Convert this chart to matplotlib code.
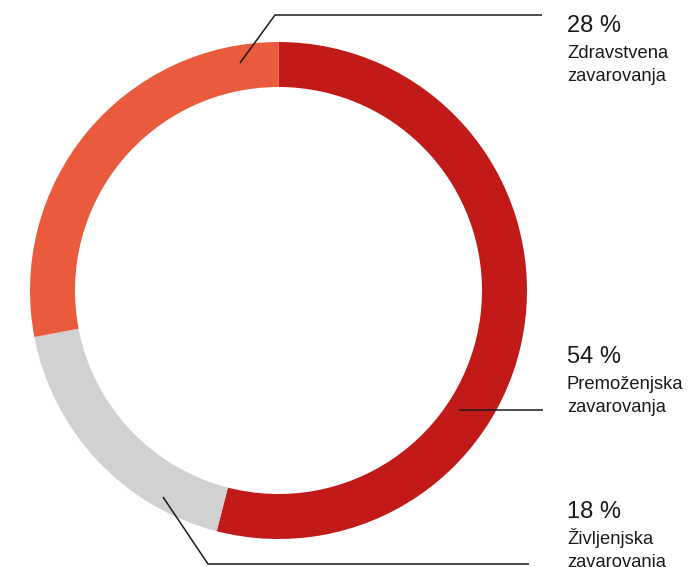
import matplotlib.pyplot as plt

labels = ["Premoženjska\nzavarovanja", "Življenjska\nzavarovanja", "Zdravstvena\nzavarovanja"]
shares = [54, 18, 28]
pct_labels = ["54 %", "18 %", "28 %"]
colors = ["#C21A18", "#D0D1D0", "#EA5A3D"]

plt.rcParams['font.family'] = ['Liberation Sans', 'DejaVu Sans']

fig = plt.figure(figsize=(6.9, 5.67), dpi=100)
ax = fig.add_axes([0, 0, 1, 1])

cx, cy, r_out = 278.5, 290.5, 248.5
# y axis is inverted (pixel coords), so -90 is the top and ccw looks clockwise
ax.pie(shares, colors=colors, startangle=-90, counterclock=True,
       center=(cx, cy), radius=r_out, frame=True,
       wedgeprops=dict(width=45, linewidth=0))
ax.set_xlim(0, 690)
ax.set_ylim(567, 0)
ax.set_aspect('equal')
ax.axis('off')

# leader lines (x, y in pixels)
leaders = [
    ([459, 543], [410, 410]),
    ([163, 208, 529], [497, 564, 564]),
    ([240, 275, 542], [63, 15, 15]),
]
for xs, ys in leaders:
    ax.plot(xs, ys, color="#1a1a1a", lw=1.1, solid_capstyle='butt')

text_pos = [(567, 363), (567, 518), (567, 32)]
for (tx, ty), pct, lab in zip(text_pos, pct_labels, labels):
    ax.text(tx, ty, pct, fontsize=17, color="#1a1a1a", va='baseline', ha='left')
    line1, line2 = lab.split("\n")
    ax.text(tx, ty + 26, line1, fontsize=13.2, color="#1a1a1a", va='baseline', ha='left')
    ax.text(tx, ty + 49, line2, fontsize=13.2, color="#1a1a1a", va='baseline', ha='left')

fig.savefig("out.png", dpi=100)
